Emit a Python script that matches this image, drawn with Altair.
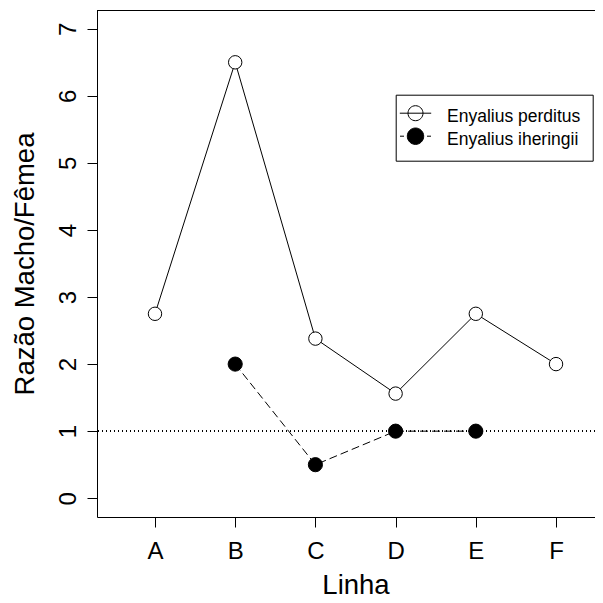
import altair as alt
import pandas as pd

categories = ["A", "B", "C", "D", "E", "F"]
perditus = [2.75, 6.5, 2.38, 1.56, 2.75, 2.0]
iheringii = [None, 2.0, 0.5, 1.0, 1.0, None]
series_names = ["Enyalius perditus", "Enyalius iheringii"]
y_ticks = [0, 1, 2, 3, 4, 5, 6, 7]
reference_level = 1

rows = []
for i, c in enumerate(categories):
    for name, vals in zip(series_names, [perditus, iheringii]):
        v = vals[i]
        if v is not None:
            rows.append({"linha": c, "pos": i + 1, "serie": name, "razao": v})
df = pd.DataFrame(rows)

FONT = "Liberation Sans"
label_expr = "[" + ",".join("'%s'" % c for c in categories) + "][datum.value - 1]"

X = alt.X(
    "pos:Q",
    scale=alt.Scale(domain=[0.277, 6.486], nice=False, zero=False),
    axis=alt.Axis(
        values=list(range(1, len(categories) + 1)),
        labelExpr=label_expr,
        title="Linha",
        grid=False,
        domainColor="black",
        tickColor="black",
        tickSize=10,
        labelFont=FONT,
        labelFontSize=24,
        labelColor="black",
        labelBaseline="alphabetic",
        labelPadding=31,
        labelFlush=False,
        titleFont=FONT,
        titleFontSize=27.5,
        titleFontWeight="normal",
        titleColor="black",
        titleX=258.5,
        titleY=76,
        titleAlign="center",
        titleBaseline="alphabetic",
    ),
)
Y = alt.Y(
    "razao:Q",
    scale=alt.Scale(domain=[-0.28, 7.28], nice=False, zero=False),
    axis=alt.Axis(
        values=y_ticks,
        format="d",
        title="Razão Macho/Fêmea",
        grid=False,
        domainColor="black",
        tickColor="black",
        tickSize=10,
        labelFont=FONT,
        labelFontSize=24,
        labelColor="black",
        labelAngle=270,
        labelAlign="center",
        labelBaseline="alphabetic",
        labelPadding=12,
        labelFlush=False,
        titleFont=FONT,
        titleFontSize=27.5,
        titleFontWeight="normal",
        titleColor="black",
        titleAngle=270,
        titleX=-64,
        titleY=253.5,
        titleAlign="center",
        titleBaseline="alphabetic",
    ),
)

base = alt.Chart(df)
s1 = series_names[0]
s2 = series_names[1]

top_border = base.mark_rule(color="black", strokeWidth=1).encode(y=alt.value(0.5))
ref_line = base.mark_rule(color="black", strokeWidth=1, strokeDash=[1, 3]).encode(
    y=alt.datum(reference_level)
)
line1 = base.transform_filter(alt.datum.serie == s1).mark_line(
    color="black", strokeWidth=1
).encode(x=X, y=Y)
line2 = base.transform_filter(alt.datum.serie == s2).mark_line(
    color="black", strokeWidth=1, strokeDash=[8, 4]
).encode(x=X, y=Y)
pts1 = base.transform_filter(alt.datum.serie == s1).mark_point(
    shape="circle", filled=True, fill="white", stroke="black", strokeWidth=1, size=180, opacity=1
).encode(x=X, y=Y)
pts2 = base.transform_filter(alt.datum.serie == s2).mark_point(
    shape="circle", filled=True, fill="black", stroke="black", strokeWidth=1, size=200, opacity=1
).encode(x=X, y=Y)

shape_paths = [
    "M-1.84,-0.4L1.3,-0.4M-1.02,-0.4A0.75,0.75,0,1,0,0.48,-0.4A0.75,0.75,0,1,0,-1.02,-0.4Z",
    "M-1.82,-0.4L-1.42,-0.4M0.88,-0.4L1.28,-0.4M-1.09,-0.4A0.82,0.82,0,1,0,0.55,-0.4A0.82,0.82,0,1,0,-1.09,-0.4Z",
]
leg = alt.Legend(
    title=None,
    orient="none",
    legendX=298.7,
    legendY=84.7,
    strokeColor="black",
    fillColor="white",
    padding=12,
    labelFont=FONT,
    labelFontSize=17.5,
    labelColor="black",
    labelOffset=18.3,
    symbolSize=400,
    symbolStrokeColor="black",
    symbolStrokeWidth=1,
    symbolOpacity=1,
    rowPadding=0,
)
legend_layer = base.transform_filter("false").mark_point(
    filled=True, stroke="black", strokeWidth=1, opacity=1
).encode(
    x=X,
    y=Y,
    shape=alt.Shape("serie:N", scale=alt.Scale(domain=series_names, range=shape_paths), legend=leg),
    fill=alt.Fill("serie:N", scale=alt.Scale(domain=series_names, range=["white", "black"]), legend=leg),
    stroke=alt.Stroke("serie:N", scale=alt.Scale(domain=series_names, range=["black", "black"]), legend=leg),
)

chart = (
    alt.layer(top_border, ref_line, line1, line2, pts1, pts2, legend_layer)
    .properties(
        width=498,
        height=507,
        autosize=alt.AutoSizeParams(type="none"),
        padding={"left": 89, "top": 2, "right": 0, "bottom": 78},
        background="white",
    )
    .configure_view(stroke=None)
)

chart.save("out.html", embed_options={"renderer": "svg", "actions": False})
